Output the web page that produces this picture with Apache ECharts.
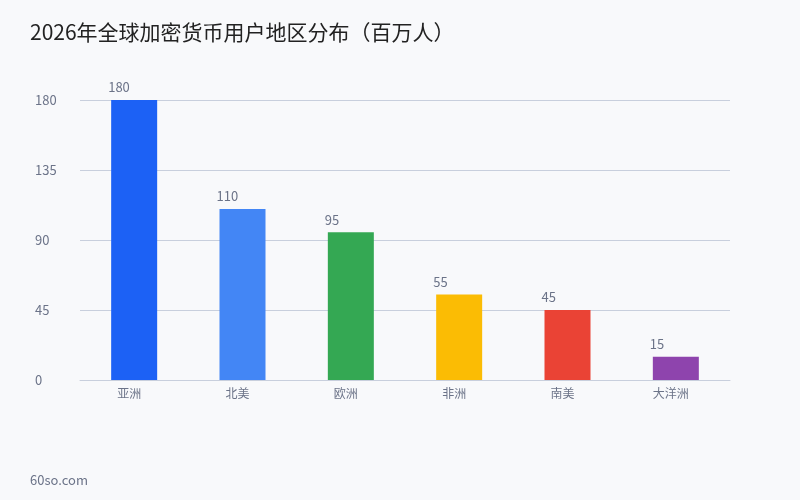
<!DOCTYPE html>
<html>
<head>
<meta charset="utf-8">
<style>
  html, body { margin: 0; padding: 0; background: #f8f9fb; }
  #main { width: 800px; height: 500px; }
</style>
<script src="https://cdn.jsdelivr.net/npm/echarts@6/dist/echarts.min.js"></script>
</head>
<body>
<div id="main"></div>
<script>
// 地区与用户数（百万人）
var regions = ['亚洲', '北美', '欧洲', '非洲', '南美', '大洋洲'];
var users = [180, 110, 95, 55, 45, 15];
var barColors = ['#1c61f5', '#4386f5', '#34a853', '#fbbc04', '#ea4335', '#8e44ad'];

var font = '"Noto Sans CJK SC", "Noto Sans", sans-serif';

var chart = echarts.init(document.getElementById('main'));

var seriesData = [];
for (var i = 0; i < users.length; i++) {
    seriesData.push({ value: users[i], itemStyle: { color: barColors[i] } });
}

var option = {
    backgroundColor: '#f8f9fb',
    animation: false,
    textStyle: { fontFamily: font },
    title: [{
        text: '2026年全球加密货币用户地区分布（百万人）',
        left: 25,
        top: 17,
        textStyle: { fontSize: 21, fontWeight: 'normal', color: '#222', fontFamily: font }
    }, {
        text: '60so.com',
        left: 25,
        top: 469,
        textStyle: { fontSize: 13, fontWeight: 'normal', color: '#6b7388', fontFamily: font }
    }],
    grid: {
        left: 80,
        right: 70,
        top: 100,
        bottom: 120
    },
    xAxis: {
        type: 'category',
        data: regions,
        axisLine: { lineStyle: { color: '#c8cfdd' } },
        axisTick: { show: false },
        axisLabel: { color: '#6b7388', fontSize: 12, margin: 7, padding: [0, 10, 0, 0], fontFamily: font }
    },
    yAxis: {
        type: 'value',
        min: 0,
        max: 180,
        interval: 45,
        axisLine: { show: false },
        axisTick: { show: false },
        axisLabel: { color: '#6b7388', fontSize: 13, align: 'left', margin: 45, fontFamily: font },
        splitLine: { lineStyle: { color: '#c8cfdd' } }
    },
    series: [{
        type: 'bar',
        data: seriesData,
        barWidth: 46,
        label: {
            show: true,
            position: [-3, -19],
            color: '#6b7388',
            fontSize: 13,
            fontFamily: font
        }
    }]
};

chart.setOption(option);
</script>
</body>
</html>
